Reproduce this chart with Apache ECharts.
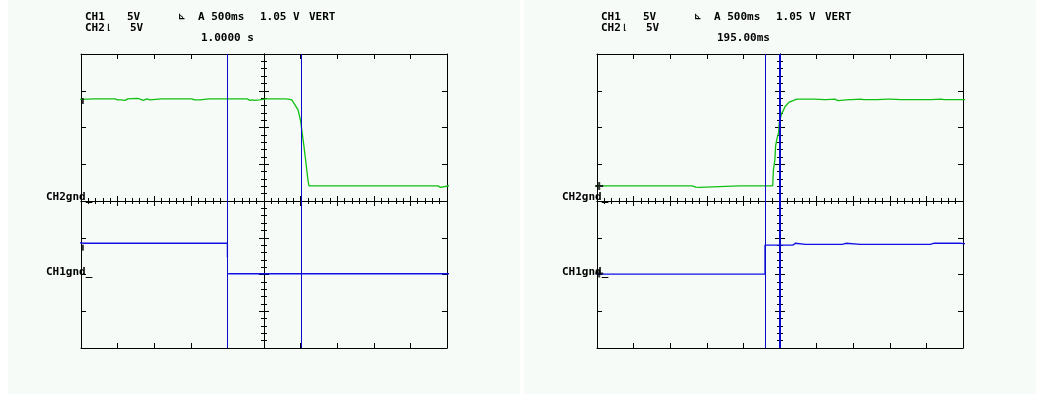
<!DOCTYPE html>
<html>
<head>
<meta charset="utf-8">
<script src="https://cdn.jsdelivr.net/npm/echarts@6/dist/echarts.min.js"></script>
<style>html,body{margin:0;padding:0;background:#fff}#c{width:1044px;height:401px}</style>
</head>
<body>
<div id="c"></div>
<script>
// ---- data (x in divisions, 500 ms/div; y in divisions, 5 V/div) ----
const leftCh2 = [[-5.11,2.76],[-5.06,2.78],[-4.62,2.78],[-4.6,2.74],[-4.57,2.78],[-4.5,2.78],[-4.48,2.75],[-4.46,2.78],[-4.35,2.78],[-4.33,2.75],[-4.31,2.78],[-4.07,2.78],[-4.05,2.74],[-4.0,2.75],[-3.95,2.74],[-3.9,2.75],[-3.8,2.74],[-3.72,2.78],[-3.47,2.79],[-3.44,2.75],[-3.4,2.78],[-3.3,2.74],[-3.2,2.78],[-3.12,2.75],[-3.1,2.78],[-2.8,2.78],[-2.78,2.74],[-2.76,2.78],[-2.48,2.78],[-2.46,2.75],[-2.44,2.78],[-1.97,2.78],[-1.95,2.74],[-1.9,2.75],[-1.85,2.74],[-1.75,2.75],[-1.5,2.78],[-1.02,2.78],[-1.0,2.74],[-0.98,2.78],[-0.85,2.78],[-0.83,2.74],[-0.81,2.78],[-0.46,2.78],[-0.44,2.75],[-0.38,2.74],[-0.32,2.75],[-0.25,2.74],[-0.12,2.75],[-0.1,2.78],[0.05,2.78],[0.07,2.75],[0.09,2.78],[0.57,2.78],[0.66,2.77],[0.76,2.75],[0.85,2.61],[0.93,2.48],[1.0,2.18],[1.05,1.8],[1.09,1.5],[1.13,1.17],[1.17,0.84],[1.2,0.57],[1.23,0.41],[1.6,0.41],[2.38,0.41],[2.4,0.37],[2.42,0.41],[2.85,0.41],[2.87,0.37],[2.89,0.41],[3.15,0.41],[3.17,0.37],[3.19,0.41],[3.9,0.41],[4.75,0.41],[4.77,0.37],[4.82,0.37],[4.84,0.41],[5.08,0.42]];
const leftCh1High = [[-5.11,-1.13],[-5.06,-1.15],[-4.9,-1.15],[-4.86,-1.12],[-4.8,-1.15],[-4.62,-1.15],[-4.58,-1.12],[-4.52,-1.15],[-4.35,-1.15],[-4.31,-1.12],[-4.25,-1.15],[-4.05,-1.15],[-4.01,-1.12],[-3.95,-1.15],[-3.7,-1.15],[-3.66,-1.12],[-3.6,-1.15],[-3.4,-1.15],[-3.36,-1.12],[-3.3,-1.15],[-3.05,-1.15],[-3.01,-1.12],[-2.95,-1.15],[-2.7,-1.15],[-2.66,-1.12],[-2.6,-1.15],[-2.35,-1.15],[-2.31,-1.12],[-2.25,-1.15],[-2.0,-1.15],[-1.96,-1.12],[-1.9,-1.15],[-1.6,-1.15],[-1.56,-1.12],[-1.5,-1.15],[-1.25,-1.15],[-1.21,-1.12],[-1.15,-1.15],[-1.0,-1.15],[-1.0,-1.53]];
const leftCh1Low = [[-0.98,-1.98],[-0.7,-1.98],[-0.66,-1.96],[-0.6,-1.98],[-0.2,-1.98],[-0.16,-1.96],[-0.1,-1.98],[0.4,-1.98],[0.44,-1.96],[0.5,-1.98],[1.1,-1.98],[1.14,-1.96],[1.2,-1.98],[1.8,-1.98],[1.84,-1.96],[1.9,-1.98],[2.5,-1.98],[2.54,-1.96],[2.6,-1.98],[3.2,-1.98],[3.66,-1.98],[3.7,-2.03],[3.74,-1.98],[4.3,-1.98],[4.34,-1.96],[4.4,-1.98],[5.08,-1.98]];
const rightCh2 = [[-5.08,0.4],[-5.0,0.41],[-4.66,0.41],[-4.64,0.37],[-4.62,0.41],[-4.52,0.41],[-4.5,0.37],[-4.48,0.41],[-4.02,0.41],[-4.0,0.37],[-3.98,0.41],[-3.38,0.41],[-3.36,0.38],[-3.34,0.41],[-3.02,0.41],[-3.0,0.37],[-2.98,0.41],[-2.4,0.41],[-2.38,0.37],[-2.3,0.38],[-2.2,0.37],[-2.18,0.41],[-1.11,0.41],[-1.09,0.37],[-1.07,0.41],[-0.2,0.41],[-0.18,0.84],[-0.14,1.12],[-0.12,1.5],[-0.08,1.71],[-0.04,1.85],[-0.02,2.12],[0.04,2.37],[0.09,2.46],[0.14,2.57],[0.25,2.69],[0.32,2.72],[0.46,2.77],[0.6,2.77],[0.62,2.73],[0.66,2.77],[0.9,2.77],[0.92,2.73],[0.96,2.77],[1.2,2.76],[1.22,2.72],[1.26,2.76],[1.5,2.77],[1.52,2.73],[1.58,2.73],[1.6,2.77],[1.9,2.76],[1.92,2.72],[1.96,2.76],[2.2,2.77],[2.22,2.73],[2.28,2.76],[2.6,2.76],[2.62,2.72],[2.66,2.76],[2.95,2.77],[2.97,2.73],[3.02,2.77],[3.3,2.76],[3.32,2.72],[3.36,2.76],[3.7,2.76],[3.72,2.73],[3.78,2.76],[4.05,2.76],[4.07,2.72],[4.12,2.76],[4.4,2.77],[4.42,2.73],[4.48,2.76],[4.7,2.76],[4.72,2.72],[4.78,2.76],[5.1,2.76]];
const rightCh1 = [[-5.0,-1.99],[-4.6,-1.99],[-4.56,-1.97],[-4.5,-1.99],[-4.1,-1.99],[-4.06,-1.97],[-4.0,-1.99],[-3.5,-1.99],[-3.46,-1.97],[-3.4,-1.99],[-2.9,-1.99],[-2.86,-1.97],[-2.8,-1.99],[-2.3,-1.99],[-2.26,-1.97],[-2.2,-1.99],[-1.7,-1.99],[-1.66,-1.97],[-1.6,-1.99],[-1.1,-1.99],[-1.06,-1.97],[-1.0,-1.99],[-0.75,-1.99],[-0.73,-2.02],[-0.71,-1.99],[-0.41,-1.99],[-0.41,-1.2],[0.35,-1.2],[0.4,-1.18],[0.42,-1.15],[0.46,-1.18],[0.7,-1.18],[0.72,-1.15],[0.76,-1.18],[1.2,-1.18],[1.22,-1.15],[1.26,-1.18],[1.7,-1.18],[1.72,-1.15],[1.8,-1.15],[1.82,-1.18],[2.2,-1.18],[2.22,-1.15],[2.28,-1.18],[2.6,-1.18],[2.62,-1.15],[2.7,-1.18],[3.0,-1.18],[3.02,-1.15],[3.08,-1.18],[3.4,-1.18],[3.42,-1.15],[3.5,-1.18],[3.9,-1.18],[3.92,-1.15],[3.96,-1.18],[4.1,-1.18],[4.12,-1.15],[4.2,-1.15],[4.3,-1.15],[4.5,-1.15],[4.7,-1.15],[4.9,-1.15],[5.1,-1.16]];
const leftCursors = [-1.0, 1.02];
const rightCursors = [-0.4, 0.0];
const leftMarkers = [[-4.95, 2.72], [-4.95, -1.27]];
const rightMarkers = [[-4.94, 0.41], [-4.94, -1.97]];
const headerRow1 = ['CH1', '5V', '\u22BE', 'A 500ms', '1.05 V', 'VERT'];
const headerRow2 = ['CH2', '\u230A', '5V'];
const timeLabels = ['1.0000 s', '195.00ms'];
const gndLabels = ['CH2gnd_', 'CH1gnd_'];

const GREEN = '#10c010', BLUE = '#1010e6', CURSOR = '#0a0acc';
const PLOTS = [{left: 81}, {left: 597}];
const W = 366, H = 294, TOP = 54;

const xAxes = [], yAxes = [];
PLOTS.forEach((p, gi) => {
  const base = {type: 'value', gridIndex: gi, axisLabel: {show: false}, splitLine: {show: false},
    axisLine: {show: true, onZero: false, lineStyle: {color: '#000', width: 1}}};
  const frameTick = {show: true, inside: true, length: 5, interval: 0, lineStyle: {color: '#000', width: 1}};
  const minor = {show: true, splitNumber: 5, length: 3, lineStyle: {color: '#000', width: 1}};
  const xb = {...base, min: -5, max: 5, interval: 1};
  xAxes.push({...xb, position: 'bottom', axisTick: frameTick});
  xAxes.push({...xb, position: 'top', axisTick: frameTick});
  xAxes.push({...xb, position: 'bottom', offset: -H / 2, axisTick: {...frameTick, inside: true}, minorTick: minor});
  xAxes.push({...xb, position: 'bottom', offset: -H / 2, axisTick: {...frameTick, inside: false}, minorTick: minor});
  const yb = {...base, min: -4, max: 4, interval: 1};
  yAxes.push({...yb, position: 'left', axisTick: frameTick});
  yAxes.push({...yb, position: 'right', axisTick: frameTick});
  yAxes.push({...yb, position: 'left', offset: -W / 2, axisTick: {...frameTick, inside: true}, minorTick: minor});
  yAxes.push({...yb, position: 'left', offset: -W / 2, axisTick: {...frameTick, inside: false}, minorTick: minor});
});

function trace(gi, data, color, cursors) {
  const s = {type: 'line', xAxisIndex: gi * 4, yAxisIndex: gi * 4, data: data, symbol: 'none', showSymbol: false,
    clip: false, animation: false, silent: true, z: 3, lineStyle: {color: color, width: 1.3}};
  if (cursors) {
    s.markLine = {silent: true, symbol: 'none', animation: false, label: {show: false},
      data: cursors.map((v, i) => ({xAxis: v, lineStyle: {color: CURSOR, width: (gi === 1 && i === 1) ? 2 : 1, type: 'solid'}}))};
  }
  return s;
}
const series = [
  trace(0, leftCh1High, BLUE, leftCursors),
  trace(0, leftCh1Low, BLUE),
  trace(0, leftCh2, GREEN),
  trace(1, rightCh1, BLUE, rightCursors),
  trace(1, rightCh2, GREEN),
  {type: 'scatter', xAxisIndex: 0, yAxisIndex: 0, data: leftMarkers, symbol: 'rect', symbolSize: [2, 6],
    itemStyle: {color: '#000'}, silent: true, animation: false, z: 4},
  {type: 'scatter', xAxisIndex: 4, yAxisIndex: 4, data: rightMarkers,
    symbol: 'path://M3,0h2v8h-2z M0,3h8v2h-8z', symbolSize: 8, itemStyle: {color: '#000'}, silent: true, animation: false, z: 4}
];

const font = {fontFamily: '"DejaVu Sans Mono", monospace', fontWeight: 'bold', fontSize: 11, fill: '#000', verticalAlign: 'middle'};
const graphic = [];
[8, 524].forEach(x => graphic.push({type: 'rect', z: -10, silent: true, shape: {x: x, y: 0, width: 512, height: 394}, style: {fill: '#f6fbf8'}}));
const row1X = [85, 127, 178, 198, 260, 309];
const row2X = [85, 106, 130];
[0, 516].forEach((dx, pi) => {
  headerRow1.forEach((t, i) => graphic.push({type: 'text', x: row1X[i] + dx, y: 17, style: {...font, text: t, fontSize: i === 2 ? 9 : 11}}));
  headerRow2.forEach((t, i) => graphic.push({type: 'text', x: row2X[i] + dx, y: 28, style: {...font, text: t, fontSize: i === 1 ? 8 : 11}}));
  graphic.push({type: 'text', x: 201 + dx, y: 38, style: {...font, text: timeLabels[pi]}});
  graphic.push({type: 'text', x: 46 + dx, y: 197, style: {...font, text: gndLabels[0]}});
  graphic.push({type: 'text', x: 46 + dx, y: 272, style: {...font, text: gndLabels[1]}});
});

const chart = echarts.init(document.getElementById('c'), null, {renderer: 'canvas'});
chart.setOption({
  backgroundColor: '#fff',
  animation: false,
  grid: PLOTS.map(p => ({left: p.left, top: TOP, width: W, height: H, containLabel: false})),
  xAxis: xAxes,
  yAxis: yAxes,
  series: series,
  graphic: graphic
});
</script>
</body>
</html>
